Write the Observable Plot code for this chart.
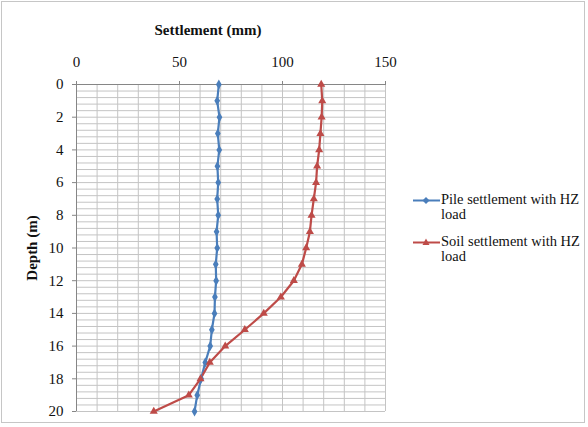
<!DOCTYPE html>
<html><head><meta charset="utf-8">
<script src="https://cdn.jsdelivr.net/npm/d3@7"></script>
<script src="https://cdn.jsdelivr.net/npm/@observablehq/plot@0.6"></script>
<style>
body{margin:0;background:#fff;}
#wrap{position:relative;width:588px;height:427px;font-family:"Liberation Serif","Times New Roman","DejaVu Serif",serif;color:#111;}
#frame{position:absolute;left:1px;top:1px;width:584px;height:422px;border:1px solid #c6c6c6;box-sizing:border-box;pointer-events:none;}
#chart{position:absolute;left:0;top:0;}
#chart svg, #chart svg text{font-family:"Liberation Serif","Times New Roman","DejaVu Serif",serif !important;}
.title{position:absolute;font-weight:bold;font-size:15px;white-space:nowrap;}
#xt{left:208px;top:30px;transform:translate(-50%,-50%);}
#yt{left:32px;top:248px;transform:translate(-50%,-50%) rotate(-90deg);}
#legend{position:absolute;left:412px;top:192px;font-size:14.5px;line-height:15px;}
.item{display:flex;align-items:flex-start;margin-bottom:12px;}
.item svg{flex:none;margin-top:1px;}
.item div{width:150px;}
</style></head>
<body>
<div id="wrap">
  <div id="chart"></div>
  <div class="title" id="xt">Settlement (mm)</div>
  <div class="title" id="yt">Depth (m)</div>
  <div id="legend"></div>
  <div id="frame"></div>
</div>
<script>
const depths = [0,1,2,3,4,5,6,7,8,9,10,11,12,13,14,15,16,17,18,19,20];
const pileSettlement = [69.1,68.3,69.4,68.6,69.3,68.4,68.8,68.3,68.8,68.0,68.3,67.6,67.8,67.2,67.0,65.7,64.9,62.5,60.5,58.6,57.3];
const soilSettlement = [118.8,119.3,119.0,118.4,117.8,116.8,116.3,115.2,114.1,113.3,111.5,109.4,105.5,99.2,90.9,81.7,72.2,64.7,60.2,54.5,37.5];
const seriesNames = ["Pile settlement with HZ load","Soil settlement with HZ load"];
const seriesColors = ["#4a7ebb","#be4b48"];
const seriesSymbols = ["diamond","triangle"];
const xTicks = [0,50,100,150];
const yTicks = [0,2,4,6,8,10,12,14,16,18,20];

const xGrid = d3.range(0, 151, 10);
const yGrid = d3.range(0, 50.5, 1).map(i => i * 0.4);

const rows = [];
depths.forEach((d,i) => {
  rows.push({series: seriesNames[0], depth: d, s: pileSettlement[i]});
  rows.push({series: seriesNames[1], depth: d, s: soilSettlement[i]});
});

const serif = '"Liberation Serif","Times New Roman","DejaVu Serif",serif';
const chart = Plot.plot({
  width: 588, height: 427,
  marginLeft: 76, marginRight: 203, marginTop: 84, marginBottom: 16,
  style: {fontFamily: serif, fontSize: "15px", color: "#111", background: "transparent", overflow: "visible"},
  x: {domain: [0,150]},
  y: {domain: [0,20], reverse: true},
  color: {domain: seriesNames, range: seriesColors},
  symbol: {domain: seriesNames, range: seriesSymbols},
  marks: [
    Plot.ruleX(xGrid, {stroke: "#c4c4c4", strokeWidth: 1}),
    Plot.ruleY(yGrid, {stroke: "#c4c4c4", strokeWidth: 1}),
    Plot.ruleX([0], {stroke: "#868686"}),
    Plot.ruleY([0], {stroke: "#868686"}),
    Plot.axisX({anchor: "top", ticks: xTicks, tickSize: 4, tickPadding: 14, label: null, stroke: "#868686"}),
    Plot.axisY({anchor: "left", ticks: yTicks, tickSize: 4, tickPadding: 9, label: null, stroke: "#868686"}),
    Plot.line(rows, {x: "s", y: "depth", z: "series", stroke: "series", strokeWidth: 2.2}),
    Plot.dot(rows, {x: "s", y: "depth", symbol: "series", fill: "series", r: 3})
  ]
});
document.getElementById("chart").appendChild(chart);

const legend = document.getElementById("legend");
seriesNames.forEach((name, i) => {
  const item = document.createElement("div");
  item.className = "item";
  const sym = i === 0
    ? `<path d="M14,4 L17.5,7.5 L14,11 L10.5,7.5 Z" fill="${seriesColors[i]}"/>`
    : `<path d="M14,3.5 L17.5,10 L10.5,10 Z" fill="${seriesColors[i]}"/>`;
  item.innerHTML = `<svg width="29" height="15"><line x1="1" x2="28" y1="7.5" y2="7.5" stroke="${seriesColors[i]}" stroke-width="2"/>${sym}</svg><div>${name.replace(" load","<br>load")}</div>`;
  legend.appendChild(item);
});
</script>
</body></html>
